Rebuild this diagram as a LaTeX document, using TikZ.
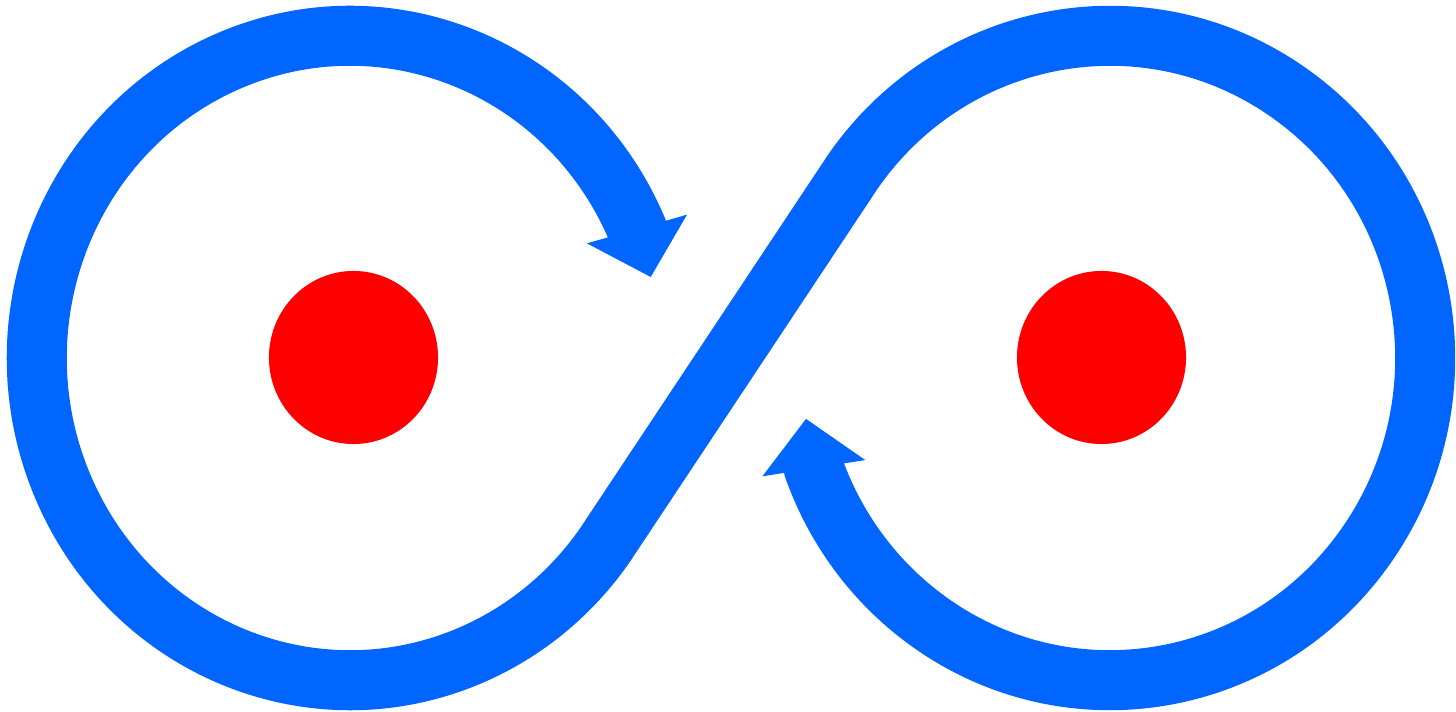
\documentclass[tikz,border=0pt]{standalone}
\usepackage{xcolor}
\usepackage{tikz}
\usetikzlibrary{arrows.meta, calc, shapes.geometric}
\definecolor{bandblue}{HTML}{0066FF}

\begin{document}
\begin{tikzpicture}[
          x=0.01cm, y=0.01cm,
          band/.style={draw=bandblue, line width=0.6cm,
            {Triangle[length=0.5cm, width=1.01cm]}-{Triangle[length=0.5cm, width=1.01cm]}},
          dot/.style={ellipse, fill=red, inner sep=0pt, minimum width=1.69cm, minimum height=1.73cm}
        ]
          \useasboundingbox (0,0) rectangle (1456,712);
          \coordinate (lc) at (350,354);
          \coordinate (rc) at (1110,354);
          \coordinate (lbase) at ($(lc)+(23.6:3.13cm and 3.22cm)$);
          \coordinate (ltip) at ($(lbase)+(-74:0.5cm)$);
          \coordinate (rjoin) at ($(rc)+(144.8:3.15cm and 3.22cm)$);
          \node[dot] (ldot) at (353.5,354.5) {};
          \node[dot] (rdot) at (1101.5,354.5) {};
          \draw[band] (ltip) -- (lbase)
            arc[start angle=23.6, end angle=324.6, x radius=3.13cm, y radius=3.22cm]
            -- (rjoin)
            arc[start angle=144.8, end angle=-160, x radius=3.15cm, y radius=3.22cm]
            -- ++(99:0.5cm);
        \end{tikzpicture}
\end{document}
